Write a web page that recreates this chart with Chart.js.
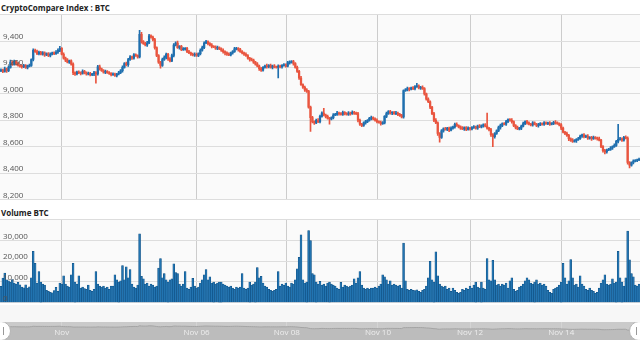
<!DOCTYPE html>
<html>
<head>
<meta charset="utf-8">
<script src="https://cdn.jsdelivr.net/npm/chart.js@4.4.1/dist/chart.umd.min.js"></script>
<style>
  body { margin: 0; background: #fff; }
  #wrap { position: relative; width: 640px; height: 340px; overflow: hidden; font-family: "Open Sans", sans-serif; }
  canvas, .ttl, .band, .ylab { position: absolute; left: 0; }
  .ttl { left: 1px; font-size: 8px; font-weight: bold; color: #222; }
  .ylab { left: 3px; font-size: 8px; line-height: 10px; color: #555; white-space: nowrap; }
</style>
</head>
<body>
<div id="wrap">
  <div class="ttl" style="top:2px">CryptoCompare Index : BTC</div>
  <canvas id="price" width="640" height="188" style="top:13px"></canvas>
  <div class="ttl" style="top:207px">Volume BTC</div>
  <canvas id="vol" width="640" height="87" style="top:218px"></canvas>
  <div class="band" style="top:305px;width:640px;height:17px;background:#f7f7f7"></div>
  <canvas id="nav" width="640" height="18" style="top:322px"></canvas>
</div>
<script>
// hourly candles
const firstOpen = 9175
const closes = [
  9180, 9170, 9190, 9175, 9200, 9240, 9225, 9245, 9230, 9215,
  9210, 9205, 9215, 9200, 9210, 9215, 9260, 9330, 9320, 9305,
  9315, 9300, 9310, 9295, 9305, 9290, 9300, 9310, 9305, 9315,
  9330, 9345, 9300, 9270, 9255, 9240, 9250, 9225, 9160, 9150,
  9165, 9160, 9155, 9170, 9160, 9150, 9155, 9145, 9150, 9160,
  9150, 9205, 9190, 9175, 9165, 9170, 9160, 9155, 9145, 9150,
  9140, 9150, 9160, 9175, 9200, 9230, 9220, 9260, 9280, 9270,
  9295, 9290, 9280, 9450, 9395, 9380, 9370, 9385, 9440, 9430,
  9410, 9350, 9290, 9240, 9215, 9260, 9275, 9300, 9265, 9250,
  9290, 9370, 9385, 9350, 9360, 9335, 9340, 9345, 9320, 9310,
  9300, 9295, 9300, 9290, 9305, 9330, 9350, 9385, 9395, 9380,
  9370, 9360, 9355, 9345, 9350, 9340, 9330, 9320, 9310, 9300,
  9295, 9310, 9320, 9340, 9345, 9335, 9320, 9310, 9300, 9290,
  9270, 9260, 9255, 9240, 9225, 9210, 9190, 9180, 9200, 9210,
  9205, 9215, 9200, 9210, 9205, 9200, 9210, 9205, 9215, 9220,
  9210, 9235, 9240, 9245, 9230, 9200, 9170, 9120, 9070, 9050,
  9030, 9020, 8900, 8820, 8790, 8780, 8800, 8790, 8830, 8855,
  8840, 8830, 8815, 8810, 8820, 8840, 8845, 8855, 8850, 8845,
  8860, 8850, 8845, 8855, 8850, 8860, 8855, 8850, 8800, 8770,
  8760, 8780, 8790, 8800, 8815, 8820, 8810, 8800, 8790, 8785,
  8775, 8780, 8830, 8850, 8865, 8855, 8860, 8850, 8855, 8845,
  8835, 8825, 9025, 9030, 9040, 9035, 9045, 9040, 9055, 9060,
  9045, 9050, 9040, 9000, 8960, 8940, 8900, 8850, 8800, 8780,
  8700, 8670, 8720, 8735, 8730, 8740, 8725, 8740, 8750, 8770,
  8760, 8750, 8740, 8735, 8745, 8730, 8740, 8735, 8745, 8750,
  8740, 8755, 8750, 8760, 8765, 8755, 8740, 8730, 8690, 8675,
  8700, 8720, 8745, 8760, 8775, 8770, 8790, 8805, 8800, 8790,
  8760, 8745, 8735, 8740, 8755, 8775, 8790, 8780, 8770, 8765,
  8780, 8770, 8760, 8765, 8775, 8770, 8780, 8775, 8780, 8770,
  8775, 8785, 8780, 8775, 8765, 8740, 8710, 8700, 8685, 8660,
  8650, 8640, 8645, 8655, 8660, 8680, 8690, 8675, 8680, 8665,
  8670, 8660, 8670, 8665, 8660, 8650, 8600, 8570, 8560, 8575,
  8580, 8590, 8600, 8610, 8640, 8655, 8660, 8650, 8670, 8665,
  8480, 8460, 8480, 8490, 8495, 8500, 8505
]
// wick lengths above / below the body
const upWick = [
  10,8,12,6,10,15,8,10,6,8, 6,10,8,6,8,10,6,10,8,12, 8,6,10,8,6,8,10,6,8,12,
  10,15,6,10,8,12,6,8,10,6, 8,10,6,12,8,6,10,8,6,10, 8,10,12,6,8,10,6,8,6,10,
  8,6,10,8,12,6,10,8,10,6, 10,8,6,30,15,8,10,12,10,6, 8,10,6,8,6,10,12,8,6,10,
  12,10,8,15,6,8,10,6,8,10, 6,8,10,8,6,10,12,8,10,6, 8,10,6,8,12,6,8,10,6,8,
  10,6,8,12,8,6,10,8,6,10, 8,6,10,8,6,12,8,10,6,8, 15,6,10,8,12,6,10,8,6,10,
  8,12,10,6,8,6,10,8,12,6, 8,10,6,8,10,6,8,12,10,8, 35,6,10,8,6,10,8,12,6,8,
  10,6,8,10,6,12,8,6,10,8, 6,8,10,6,8,12,6,8,10,6, 8,10,6,12,8,10,6,8,12,6,
  8,10,6,10,12,8,6,10,8,20, 8,6,10,8,6,10,8,6,10,12, 8,6,10,8,12,6,8,10,6,8,
  10,6,8,12,6,8,10,6,8,10, 6,8,12,6,8,10,100,6,8,10, 6,8,10,12,6,8,10,6,8,12,
  6,8,10,6,8,12,6,10,8,6, 10,8,6,12,8,6,10,8,6,10, 8,6,12,8,6,10,8,6,10,8,
  6,12,8,6,10,8,6,10,8,12, 6,8,10,6,8,12,6,8,10,6, 8,10,6,12,8,115,10,6,8,12,
  10,8,6,10,8,6,8
]
const dnWick = [
  8,10,6,12,8,6,10,8,12,6, 8,10,6,8,12,6,8,10,6,8, 10,6,8,12,6,8,10,6,8,6,
  8,10,6,8,12,6,10,8,15,10, 6,8,12,6,10,8,6,10,8,12, 70,8,10,6,8,12,6,8,10,6,
  8,12,6,8,10,6,8,12,6,10, 8,6,10,8,12,6,8,10,6,8, 10,12,8,10,20,8,6,10,12,8,
  6,10,8,6,12,8,6,10,8,6, 10,8,12,6,8,10,6,8,6,10, 8,12,6,8,10,6,8,12,15,10,
  6,8,10,6,8,12,6,8,10,6, 8,12,6,10,8,6,12,10,8,6, 10,8,6,12,8,6,80,8,10,6,
  8,6,10,8,12,6,8,10,6,8, 12,10,8,105,10,12,6,8,10,6, 8,12,6,40,8,10,6,8,12,6,
  8,10,6,8,12,6,10,8,12,10, 8,6,10,8,6,12,8,6,10,8, 12,6,8,10,6,8,12,6,8,10,
  6,8,10,6,8,12,6,8,10,6, 8,12,6,10,8,6,12,8,10,6, 15,35,8,10,6,8,12,6,8,10,
  6,8,10,6,12,8,6,10,8,6, 8,10,6,8,12,6,8,10,12,75, 10,8,6,12,8,6,10,8,6,12,
  8,10,6,8,12,6,8,10,6,8, 10,6,8,12,6,8,10,6,8,10, 6,8,10,6,8,12,6,10,8,15,
  10,8,6,12,8,6,10,8,6,10, 8,12,6,8,10,6,8,12,15,10, 6,8,10,6,8,12,6,10,8,6,
  12,20,8,10,6,8,6
]
const volumes = [
  7900, 11900, 14300, 11000, 10500, 9800, 11200, 9500, 9000, 9800,
  8600, 7500, 7200, 8600, 7000, 7600, 12000, 24800, 19000, 9500,
  15000, 10000, 9000, 8500, 6000, 5500, 5000, 4800, 5800, 7400,
  5500, 9500, 9000, 13000, 9000, 8000, 7500, 13500, 19000, 10000,
  9000, 13000, 7000, 7500, 6800, 6500, 8500, 6000, 5500, 6500,
  15000, 9000, 8000, 7500, 8000, 7000, 7500, 6500, 8000, 8000,
  13500, 11000, 10000, 10500, 17900, 11000, 17300, 12000, 16000, 9000,
  7500, 7000, 8500, 33200, 12700, 11500, 9000, 9500, 8000, 9000,
  8500, 7500, 8000, 16700, 21300, 12000, 14000, 11000, 10000, 11000,
  11500, 18700, 14500, 14000, 9000, 8000, 9000, 15000, 7000, 6500,
  7500, 11800, 8000, 7000, 7500, 9500, 11000, 13500, 16000, 11000,
  12500, 9500, 10000, 9000, 9500, 10000, 10000, 9000, 8500, 8000,
  7500, 8000, 7000, 6500, 7500, 7000, 7500, 14000, 7000, 6500,
  7000, 10000, 8500, 9000, 10000, 17000, 12000, 12700, 9500, 8000,
  7500, 6500, 6000, 5500, 6000, 6500, 15000, 8000, 9000, 8500,
  9500, 8000, 7500, 9500, 9000, 11000, 16300, 21900, 32800, 11000,
  9500, 10000, 34800, 30000, 14000, 13500, 10000, 9000,
  10300, 8500, 9000, 8000, 9500, 10000, 9000, 8500, 8000, 7000,
  6500, 9800, 7500, 8500, 8000, 7500, 8000, 8500, 11500, 9500,
  12000, 15000, 8500, 7000, 6500, 7000, 6500, 7000, 7000, 7500,
  7000, 8000, 9000, 13500, 12500, 11000, 9000, 10500, 8500, 9000,
  8500, 8000, 8500, 7000, 28800, 10500, 6500, 6000, 6500, 6000,
  5800, 6200, 5500, 5000, 6000, 6500, 8000, 12000, 20000, 11000,
  10000, 24500, 13000, 9000, 8000, 7500, 8000, 6500, 7000, 5500,
  7000, 6000, 5000, 4500, 5000, 6500, 6000, 7000, 6500, 8000,
  7000, 8500, 10000, 7500, 7000, 10000, 7000, 6500, 21300, 11000,
  10500, 20400, 11000, 8500, 9000, 8000, 9000, 8500, 9500, 7000,
  10500, 12000, 6500, 5500, 6000, 7500, 8000, 9000, 10500, 12000,
  11000, 9500, 9000, 10000, 11000, 9000, 9500, 8500, 9000, 8000,
  6000, 5000, 4500, 6500, 7000, 7500, 8500, 10000, 19000, 12000,
  9000, 10500, 20800, 12000, 8500, 9000, 7500, 13000, 9000, 8000,
  6500, 6000, 7000, 6000, 5500, 4500, 5000, 7000, 9500, 11000,
  13500, 9000, 8500, 9000, 11500, 9500, 10000, 24800, 12000, 10000,
  8000, 12000, 34500, 20700, 14000, 12500, 8500, 8000, 9000
]
const tickPos = [32, 103, 150.5, 198.5, 247, 295]
const tickLabels = ['Nov', 'Nov 06', 'Nov 08', 'Nov 10', 'Nov 12', 'Nov 14']
const priceTicks = [8200, 8400, 8600, 8800, 9000, 9200, 9400, 9600]
const volTicks = [0, 10000, 20000, 30000, 40000]

const UP = '#1f6fae'
const DOWN = '#e9553f'

let bodies = []
let wicks = []
let colors = []
closes.forEach((c, i) => {
    const o = i ? closes[i - 1] : firstOpen
    bodies.push({ x: i, y: [o, c] })
    wicks.push({ x: i, y: [Math.min(o, c) - dnWick[i], Math.max(o, c) + upWick[i]] })
    colors.push(c >= o ? UP : DOWN)
})

Chart.defaults.font.family = '"Open Sans", sans-serif'
Chart.defaults.font.size = 8
Chart.defaults.animation = false

const plotBg = {
    id: 'plotBg',
    beforeDraw(chart, args, opts) {
        const { ctx, chartArea: a } = chart
        ctx.save()
        ctx.fillStyle = opts.color
        ctx.fillRect(a.left, a.top, a.right - a.left, a.bottom - a.top)
        ctx.restore()
    }
}

// y labels as text elements, placed from the chart's own y scale, just above each grid line
function addYLabels(chart, vals) {
    const wrap = document.getElementById('wrap')
    const top = chart.canvas.offsetTop
    vals.slice(0, -1).forEach(v => {
        const d = document.createElement('div')
        d.className = 'ylab'
        d.textContent = v.toLocaleString('en-US')
        d.style.top = (top + chart.scales.y.getPixelForValue(v) - 10) + 'px'
        wrap.appendChild(d)
    })
}

// no extra room around the axes
const noPad = s => {
    s.paddingTop = 0
    s.paddingBottom = 0
    s.paddingLeft = 0
    s.paddingRight = 0
    if (s.isHorizontal()) s.height = 0
    else s.width = 0
}

const xScale = (gridColor) => ({
    type: 'linear', min: -0.5, max: closes.length - 0.5,
    offset: false,
    afterBuildTicks: s => { s.ticks = tickPos.map(v => ({ value: v })) },
    afterFit: noPad,
    ticks: { display: false },
    grid: { color: gridColor, drawTicks: false, offset: false },
    border: { display: false }
})

const yScale = (vals) => ({
    min: vals[0], max: vals[vals.length - 1],
    afterBuildTicks: s => { s.ticks = vals.map(v => ({ value: v })) },
    afterFit: noPad,
    ticks: { display: false },
    grid: { color: '#dddddd', drawTicks: false },
    border: { display: false }
})

const priceChart = new Chart(document.getElementById('price'), {
    type: 'bar',
    data: {
        datasets: [
            { data: wicks, backgroundColor: colors, barThickness: 1, grouped: false },
            { data: bodies, backgroundColor: colors, barThickness: 1.6, grouped: false }
        ]
    },
    options: {
        responsive: false,
        layout: { padding: { top: 1.6, bottom: 1.5 } },
        scales: { x: xScale('#cccccc'), y: yScale(priceTicks) },
        plugins: { legend: { display: false }, tooltip: { enabled: false }, plotBg: { color: '#fafafa' } }
    },
    plugins: [plotBg]
})
addYLabels(priceChart, priceTicks)

const volChart = new Chart(document.getElementById('vol'), {
    type: 'bar',
    data: {
        datasets: [{
            data: volumes.map((v, i) => ({ x: i, y: v })),
            backgroundColor: '#2274b1',
            borderColor: '#0e4c7e',
            borderWidth: 0.5,
            barPercentage: 1,
            categoryPercentage: 1
        }]
    },
    options: {
        responsive: false,
        layout: { padding: { top: 1.8, bottom: 2.3 } },
        scales: { x: xScale('#cccccc'), y: yScale(volTicks) },
        plugins: { legend: { display: false }, tooltip: { enabled: false }, plotBg: { color: '#fafafa' } }
    },
    plugins: [plotBg]
})
addYLabels(volChart, volTicks)

const navDeco = {
    id: 'navDeco',
    afterDraw(chart) {
        const { ctx, scales } = chart
        ctx.save()
        ctx.fillStyle = '#eeeeee'
        ctx.font = '8px "Open Sans", sans-serif'
        ctx.textAlign = 'center'
        ctx.textBaseline = 'middle'
        tickPos.forEach((p, k) => ctx.fillText(tickLabels[k], scales.x.getPixelForValue(p), 11))
        ;[1, 639].forEach(cx => {
            ctx.beginPath()
            ctx.arc(cx, 9, 9.5, 0, Math.PI * 2)
            ctx.fillStyle = '#ffffff'
            ctx.fill()
            ctx.strokeStyle = '#b5b5b5'
            ctx.lineWidth = 1
            ctx.stroke()
            ctx.beginPath()
            ctx.moveTo(cx + (cx < 320 ? 2.5 : -2.5), 5)
            ctx.lineTo(cx + (cx < 320 ? 2.5 : -2.5), 13)
            ctx.strokeStyle = '#999999'
            ctx.stroke()
        })
        ctx.restore()
    }
}

new Chart(document.getElementById('nav'), {
    type: 'line',
    data: {
        datasets: [{
            data: closes.map((c, i) => ({ x: i, y: c })),
            borderColor: '#a4a4a4',
            borderWidth: 1,
            backgroundColor: '#bcbcbc',
            fill: 'start',
            pointRadius: 0
        }]
    },
    options: {
        responsive: false,
        scales: {
            x: xScale('#d4d4d4'),
            y: { display: false, min: 6250, max: 10300 }
        },
        plugins: { legend: { display: false }, tooltip: { enabled: false }, plotBg: { color: '#cacaca' } }
    },
    plugins: [plotBg, navDeco]
})
</script>
</body>
</html>
